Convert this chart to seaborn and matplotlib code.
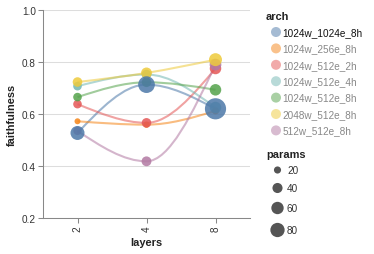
import numpy as np
import pandas as pd
import matplotlib
matplotlib.use("Agg")
import matplotlib.pyplot as plt
from matplotlib.path import Path
from matplotlib.patches import PathPatch
import seaborn as sns

# data
layers = ["2", "4", "8"]
archs = ["1024w_1024e_8h", "1024w_256e_8h", "1024w_512e_2h", "1024w_512e_4h",
         "1024w_512e_8h", "2048w_512e_8h", "512w_512e_8h"]
faithfulness = [
    [0.527, 0.713, 0.620],
    [0.572, 0.559, 0.612],
    [0.638, 0.566, 0.775],
    [0.707, 0.752, 0.625],
    [0.665, 0.722, 0.693],
    [0.723, 0.758, 0.809],
    [0.535, 0.418, 0.790],
]
params = [
    [77, 110, 176],
    [14, 16, 20],
    [29, 36, 52],
    [29, 36, 52],
    [29, 36, 52],
    [36, 46, 66],
    [27, 38, 54],
]
size_ticks = [20, 40, 60, 80]
colors = ["#4c78a8", "#f58518", "#e45756", "#72b7b2", "#54a24b", "#eeca3b", "#b279a2"]
palette = dict(zip(archs, colors))

rows = []
for a, fs, ps in zip(archs, faithfulness, params):
    for i, (f, p) in enumerate(zip(fs, ps)):
        rows.append({"arch": a, "layers": layers[i], "xpos": i, "faithfulness": f, "params": p})
df = pd.DataFrame(rows)

sns.set_style("white")
plt.rcParams["font.family"] = ["Liberation Sans", "DejaVu Sans"]

W, H = 374, 255
fig = plt.figure(figsize=(W / 100, H / 100), dpi=100)
ax = fig.add_axes([43 / W, 1 - 219 / H, 207 / W, 208 / H])


def monotone_path(ys):
    # d3 curveMonotoneX on evenly spaced x (0, 1, 2)
    y0, y1, y2 = ys
    s0, s1 = y1 - y0, y2 - y1
    p = (s0 + s1) / 2
    sgn = lambda v: -1 if v < 0 else 1
    t1 = (sgn(s0) + sgn(s1)) * min(abs(s0), abs(s1), 0.5 * abs(p))
    t0 = (3 * s0 - t1) / 2
    t2 = (3 * s1 - t1) / 2
    xs = [0, 1, 2]
    ts = [t0, t1, t2]
    verts = [(0, y0)]
    codes = [Path.MOVETO]
    for k in range(2):
        dx = 1 / 3
        verts += [(xs[k] + dx, ys[k] + dx * ts[k]),
                  (xs[k + 1] - dx, ys[k + 1] - dx * ts[k + 1]),
                  (xs[k + 1], ys[k + 1])]
        codes += [Path.CURVE4] * 3
    return Path(verts, codes)


for a, fs in zip(archs, faithfulness):
    ax.add_patch(PathPatch(monotone_path(fs), fill=False, edgecolor=palette[a],
                           lw=1.5, alpha=0.55, zorder=2))

sns.scatterplot(data=df.sort_values("params", kind="stable"), x="xpos", y="faithfulness",
                hue="arch", palette=palette, size="params", sizes=(0, 264),
                size_norm=(0, 200), alpha=0.85, edgecolor="none", linewidth=0,
                legend=False, ax=ax, zorder=3)

ax.set_xlim(-0.5, 2.5)
ax.set_ylim(0.2, 1.0)
ax.set_xticks(range(3), layers, rotation=90)
ax.set_yticks([0.2, 0.4, 0.6, 0.8, 1.0], ["0.2", "0.4", "0.6", "0.8", "1.0"])
ax.grid(axis="y", color="#dddddd", lw=0.75)
ax.grid(axis="x", visible=False)
ax.set_axisbelow(True)
for s in ["top", "right"]:
    ax.spines[s].set_visible(False)
for s in ["left", "bottom"]:
    ax.spines[s].set_color("#888888")
    ax.spines[s].set_linewidth(0.75)
ax.tick_params(axis="both", length=3.6, width=0.75, color="#888888",
               labelsize=7.2, labelcolor="#333333", pad=1.5, left=True, bottom=True)
ax.set_xlabel("layers", fontsize=7.9, fontweight="bold", color="#222222")
ax.set_ylabel("faithfulness", fontsize=7.9, fontweight="bold", color="#222222")
ax.xaxis.set_label_coords(0.5, (219 - 243) / 208)
ax.xaxis.label.set_va("center")
ax.yaxis.set_label_coords((12 - 43) / 207, 0.5)
ax.yaxis.label.set_va("center")

# legends drawn in pixel space
lax = fig.add_axes([0, 0, 1, 1])
lax.set_xlim(0, W)
lax.set_ylim(H, 0)
lax.axis("off")
lax.patch.set_alpha(0)

lax.text(266, 17, "arch", fontsize=7.9, fontweight="bold", color="#222222", va="center")
for i, a in enumerate(archs):
    y = 33 + 16.4 * i
    lax.scatter([276], [y], s=52, color=palette[a], alpha=0.5, edgecolor="none")
    lax.text(282.5, y, a, fontsize=7.2, va="center",
             color="#111111" if i == 0 else "#888888")

lax.text(266, 155, "params", fontsize=7.9, fontweight="bold", color="#222222", va="center")
for v, y in zip(size_ticks, [171, 189, 209, 231]):
    lax.scatter([277.5], [y], s=1.32 * v, color="#555555", edgecolor="none")
    lax.text(287, y, str(v), fontsize=7.2, va="center", color="#333333")

fig.savefig("out.png", dpi=100)
